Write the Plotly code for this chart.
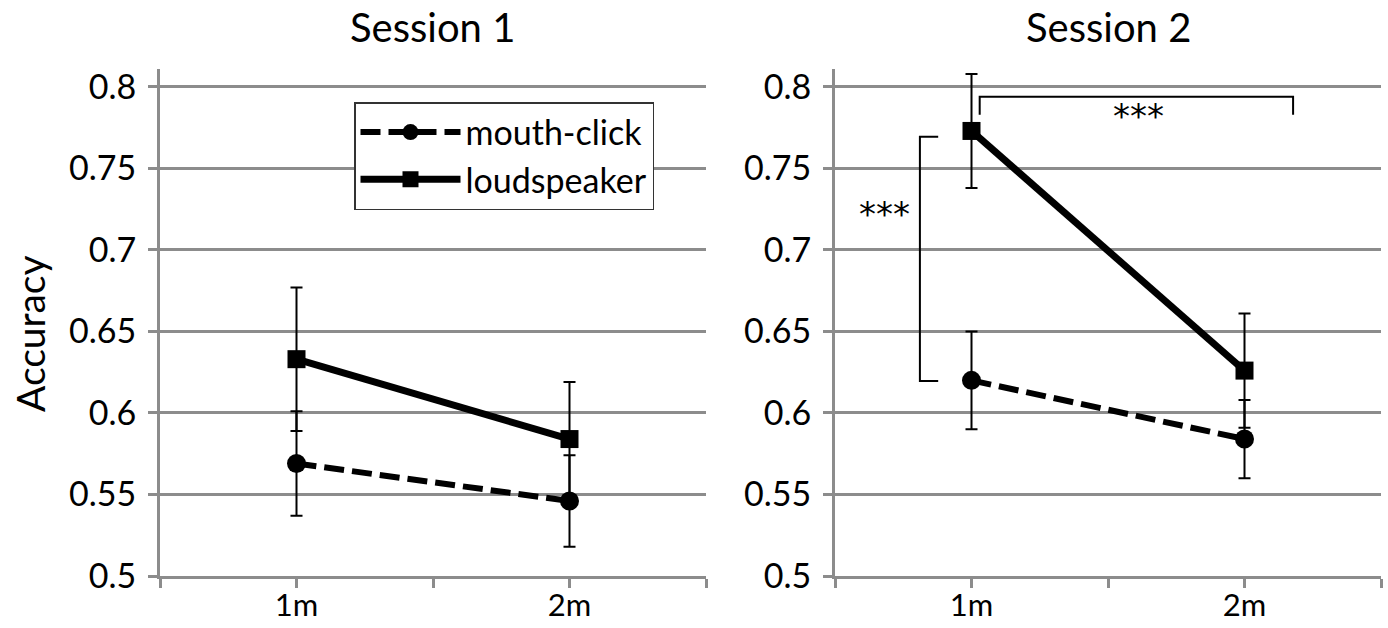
import plotly.graph_objects as go

categories = ["1m", "2m"]
sessions = ["Session 1", "Session 2"]
series_names = ["mouth-click", "loudspeaker"]

# Accuracy means and error bar half-widths, per session
mouth_s1 = [0.569, 0.546]
mouth_s1_err = [0.032, 0.028]
loud_s1 = [0.633, 0.584]
loud_s1_err = [0.044, 0.035]

mouth_s2 = [0.620, 0.584]
mouth_s2_err = [0.030, 0.024]
loud_s2 = [0.773, 0.626]
loud_s2_err = [0.035, 0.035]

y_ticks = [0.5, 0.55, 0.6, 0.65, 0.7, 0.75, 0.8]
y_tick_text = ["0.5", "0.55", "0.6", "0.65", "0.7", "0.75", "0.8"]

W, H = 1388, 628
FONT = "Lato, Carlito, 'Open Sans', sans-serif"
STAR_FONT = "'DejaVu Sans', sans-serif"
GRID = "#8c8c8c"

xpos = list(range(len(categories)))

fig = go.Figure()

series = [
    (mouth_s1, mouth_s1_err, loud_s1, loud_s1_err, "x", "y", True),
    (mouth_s2, mouth_s2_err, loud_s2, loud_s2_err, "x2", "y2", False),
]

for m, me, l, le, xa, ya, show in series:
    fig.add_trace(go.Scatter(
        x=xpos, y=m, name=series_names[0], mode="lines+markers",
        line=dict(color="black", width=6, dash="20px,8px"),
        marker=dict(symbol="circle", size=19, color="black"),
        error_y=dict(type="data", array=me, visible=True, color="black",
                     thickness=2, width=6),
        xaxis=xa, yaxis=ya, showlegend=show, legendgroup="m",
    ))
    fig.add_trace(go.Scatter(
        x=xpos, y=l, name=series_names[1], mode="lines+markers",
        line=dict(color="black", width=7),
        marker=dict(symbol="square", size=18, color="black"),
        error_y=dict(type="data", array=le, visible=True, color="black",
                     thickness=2, width=6),
        xaxis=xa, yaxis=ya, showlegend=show, legendgroup="l",
    ))

xaxis_common = dict(
    range=[-0.5, len(categories) - 0.5],
    tickmode="array",
    tickvals=[-0.5, 0, 0.5, 1, 1.5],
    ticktext=["", categories[0], "", categories[1], ""],
    ticks="outside", ticklen=9, tickwidth=3, tickcolor=GRID,
    ticklabelstandoff=-9,
    showline=True, linecolor=GRID, linewidth=3,
    showgrid=False, zeroline=False, automargin=False,
    tickfont=dict(family=FONT, size=31, color="black"),
    fixedrange=True,
)
yaxis_common = dict(
    range=[0.5, 0.811],
    tickmode="array", tickvals=y_ticks, ticktext=y_tick_text,
    ticks="outside", ticklen=9, tickwidth=3, tickcolor=GRID,
    ticklabelstandoff=5,
    showline=True, linecolor=GRID, linewidth=3,
    showgrid=True, gridcolor=GRID, gridwidth=3,
    zeroline=False, automargin=False,
    tickfont=dict(family=FONT, size=34, color="black"),
    fixedrange=True,
)

ybot = (H - 576) / H
ytop = (H - 69) / H

fig.update_layout(
    width=W, height=H,
    margin=dict(l=0, r=0, t=0, b=0, autoexpand=False),
    paper_bgcolor="white", plot_bgcolor="white",
    xaxis=dict(domain=[160 / W, 706 / W], anchor="y", **xaxis_common),
    yaxis=dict(domain=[ybot, ytop], anchor="x", **yaxis_common),
    xaxis2=dict(domain=[835 / W, 1381 / W], anchor="y2", **xaxis_common),
    yaxis2=dict(domain=[ybot, ytop], anchor="x2", **yaxis_common),
    showlegend=True,
    legend=dict(
        x=354 / W, y=(H - 102) / H, xanchor="left", yanchor="top",
        bgcolor="white", bordercolor="#333333", borderwidth=1.5,
        font=dict(family=FONT, size=34, color="black"),
        itemwidth=100, tracegroupgap=0,
    ),
)

# Panel titles and y-axis title
for i, s in enumerate(sessions):
    cx = (160 + 706) / 2 if i == 0 else (835 + 1381) / 2
    fig.add_annotation(text=s, x=cx / W, y=(H - 27) / H, xref="paper", yref="paper",
                       showarrow=False, xanchor="center", yanchor="middle",
                       font=dict(family=FONT, size=40, color="black"))
fig.add_annotation(text="Accuracy", x=30 / W, y=(H - 334) / H, xref="paper", yref="paper",
                   showarrow=False, textangle=-90, xanchor="center", yanchor="middle",
                   font=dict(family=FONT, size=39, color="black"))

# Significance brackets in Session 2
fig.add_shape(type="path", xref="x2", yref="y2",
              path="M -0.122 0.7695 L -0.189 0.7695 L -0.189 0.6196 L -0.122 0.6196",
              line=dict(color="black", width=2))
fig.add_shape(type="path", xref="x2", yref="y2",
              path="M 0.03 0.783 L 0.03 0.794 L 1.178 0.794 L 1.178 0.783",
              line=dict(color="black", width=2))
fig.add_annotation(text="***", x=-0.318, y=0.722, xref="x2", yref="y2", showarrow=False,
                   font=dict(family=STAR_FONT, size=34, color="black"))
fig.add_annotation(text="***", x=0.611, y=0.782, xref="x2", yref="y2", showarrow=False,
                   font=dict(family=STAR_FONT, size=34, color="black"))

fig.write_html("out.html", post_script="document.body.style.margin='0px';",
               config={"displayModeBar": False})
